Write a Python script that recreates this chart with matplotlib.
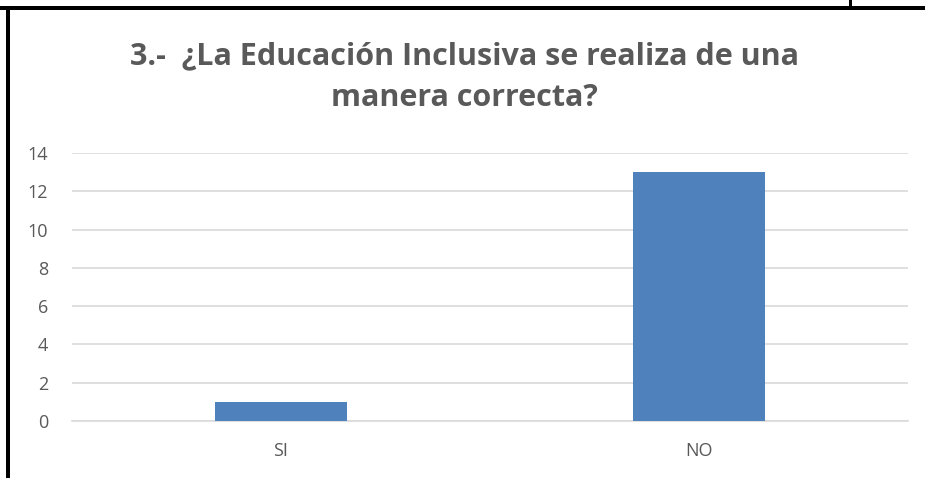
import matplotlib.pyplot as plt
from matplotlib.patches import Rectangle

# datos
categorias = ['SI', 'NO']
valores = [1, 13]
yticks = [0, 2, 4, 6, 8, 10, 12, 14]
titulo = '3.-  ¿La Educación Inclusiva se realiza de una\nmanera correcta?'

plt.rcParams['font.family'] = ['Open Sans', 'DejaVu Sans']

fig = plt.figure(figsize=(9.25, 4.78), dpi=100)
W, H = 925, 478
ax = fig.add_axes([72 / W, 1 - 421 / H, (908 - 72) / W, (421 - 153) / H])

x = range(len(categorias))
ax.bar(x, valores, width=0.314, color='#4f81bd', zorder=3)
ax.set_xlim(-0.5, 1.5)
ax.set_ylim(0, 14)
ax.set_yticks(yticks)
ax.set_xticks(list(x))
ax.set_xticklabels(categorias)
ax.grid(axis='y', color='#d9d9d9', linewidth=1.2, zorder=0)
for s in ['top', 'right', 'left']:
    ax.spines[s].set_visible(False)
ax.spines['bottom'].set_color('#d9d9d9')
ax.spines['bottom'].set_linewidth(1.2)
ax.tick_params(axis='both', length=0, labelsize=13, colors='#595959')
ax.tick_params(axis='y', pad=17)
ax.tick_params(axis='x', pad=15)

fig.text(464 / W, 1 - 77 / H, titulo, ha='center', va='center', fontsize=22,
         fontweight='bold', color='#595959', linespacing=1.48)

# bordes de la tabla
fig.add_artist(Rectangle((0, 1 - 10 / H), 1, 4 / H, transform=fig.transFigure,
                         color='black', lw=0))
fig.add_artist(Rectangle((6 / W, 0), 4 / W, 1 - 6 / H, transform=fig.transFigure,
                         color='black', lw=0))
fig.add_artist(Rectangle((849 / W, 1 - 6 / H), 3 / W, 6 / H, transform=fig.transFigure,
                         color='black', lw=0))

fig.savefig('out.png', dpi=100)
